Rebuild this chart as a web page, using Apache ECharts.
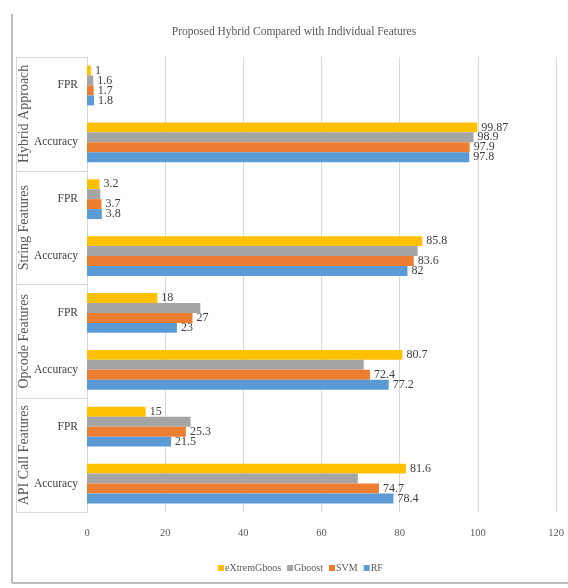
<!DOCTYPE html>
<html>
<head>
<meta charset="utf-8">
<script src="https://cdn.jsdelivr.net/npm/echarts@6/dist/echarts.min.js"></script>
<style>html,body{margin:0;padding:0;background:#fff;}#c{width:568px;height:588px;}</style>
</head>
<body>
<div id="c"></div>
<script>
const categories = ['Accuracy','FPR','Accuracy','FPR','Accuracy','FPR','Accuracy','FPR'];
const groups = ['API Call Features','Opcode Features','String Features','Hybrid Approach'];
const xTicks = [0, 20, 40, 60, 80, 100, 120];
const RF = [78.4, 21.5, 77.2, 23, 82, 3.8, 97.8, 1.8];
const SVM = [74.7, 25.3, 72.4, 27, 83.6, 3.7, 97.9, 1.7];
const Gboost = [69.3, 26.5, 70.8, 29, 84.6, 3.4, 98.9, 1.6];
const eXtremGboos = [81.6, 15, 80.7, 18, 85.8, 3.2, 99.87, 1];
const gboostLabelled = [6, 7];

const FONT = '"Liberation Serif", "DejaVu Serif", serif';
const chart = echarts.init(document.getElementById('c'), null, {renderer: 'canvas'});

function mk(name, data, color, labelIdx) {
  return {
    name: name, type: 'bar', data: data,
    barGap: '0%', barCategoryGap: '30%',
    itemStyle: {color: color},
    label: {
      show: true, position: 'right', distance: 4,
      fontFamily: FONT, fontSize: 12, color: '#404040',
      formatter: p => (labelIdx && labelIdx.indexOf(p.dataIndex) < 0) ? '' : String(p.value)
    }
  };
}

chart.setOption({
  animation: false,
  title: {
    text: 'Proposed Hybrid Compared with Individual Features',
    left: 289, top: 21, textAlign: 'center',
    textStyle: {fontFamily: FONT, fontSize: 11.5, fontWeight: 'normal', color: '#595959'}
  },
  legend: {
    data: ['eXtremGboos', 'Gboost', 'SVM', 'RF'],
    left: 213, top: 558,
    itemWidth: 6, itemHeight: 6, itemGap: 6, icon: 'rect',
    textStyle: {fontFamily: FONT, fontSize: 10, color: '#595959', padding: [0,0,0,-4]}
  },
  grid: {left: 87, right: 12, top: 57, bottom: 76, containLabel: false},
  xAxis: {
    type: 'value', min: xTicks[0], max: xTicks[xTicks.length-1], interval: 20,
    axisLine: {show: false}, axisTick: {show: false},
    splitLine: {lineStyle: {color: '#d9d9d9', width: 1}},
    axisLabel: {fontFamily: FONT, fontSize: 10.5, color: '#595959', margin: 16}
  },
  yAxis: [
    {
      type: 'category', data: categories,
      axisLine: {show: true, lineStyle: {color: '#d9d9d9'}},
      axisTick: {show: false},
      axisLabel: {interval: 0, fontFamily: FONT, fontSize: 11.5, color: '#404040', margin: 9}
    },
    {
      type: 'category', data: groups, position: 'left', offset: 71,
      axisLine: {show: true, lineStyle: {color: '#d9d9d9'}},
      axisTick: {show: true, interval: 0, inside: true, length: 71, lineStyle: {color: '#d9d9d9'}},
      axisLabel: {
        interval: 0, inside: true, rotate: 90, margin: 1,
        fontFamily: FONT, fontSize: 14, color: '#595959'
      }
    }
  ],
  series: [
    mk('eXtremGboos', eXtremGboos, '#FFC000'),
    mk('Gboost', Gboost, '#A5A5A5', gboostLabelled),
    mk('SVM', SVM, '#ED7D31'),
    mk('RF', RF, '#5B9BD5')
  ],
  graphic: [
    {type: 'line', shape: {x1: 12, y1: 14, x2: 12, y2: 583}, style: {stroke: '#a6a6a6', lineWidth: 1.5}},
    {type: 'line', shape: {x1: 12, y1: 583, x2: 568, y2: 583}, style: {stroke: '#a6a6a6', lineWidth: 1.5}}
  ]
});
</script>
</body>
</html>
